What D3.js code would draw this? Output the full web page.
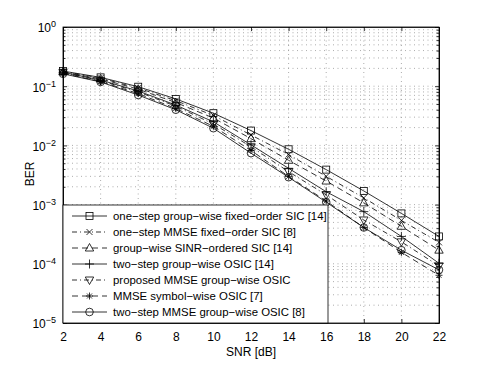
<!DOCTYPE html>
<html>
<head>
<meta charset="UTF-8">
<style>
  body { margin: 0; background: #fff; }
  text { font-family: "Liberation Sans", Arial, sans-serif; }
</style>
</head>
<body>
<svg width="485" height="365"></svg>
<script src="https://cdn.jsdelivr.net/npm/d3@7"></script>
<script>

// data
var snr = [2, 4, 6, 8, 10, 12, 14, 16, 18, 20, 22];
var labels = [
  "one\u2212step group\u2212wise fixed\u2212order SIC [14]",
  "one\u2212step MMSE fixed\u2212order SIC [8]",
  "group\u2212wise SINR\u2212ordered SIC [14]",
  "two\u2212step group\u2212wise OSIC [14]",
  "proposed MMSE group\u2212wise OSIC",
  "MMSE symbol\u2212wise OSIC [7]",
  "two\u2212step MMSE group\u2212wise OSIC [8]"
];
var berFixed   = [0.18, 0.141, 0.098, 0.061, 0.035, 0.0178, 0.0086, 0.0039, 0.0017, 7.1e-4, 2.9e-4];
var berMmseFix = [0.177, 0.137, 0.093, 0.057, 0.032, 0.015, 0.007, 0.003, 0.0013, 5.4e-4, 2.3e-4];
var berSinr    = [0.175, 0.133, 0.089, 0.053, 0.029, 0.013, 0.0056, 0.0025, 0.00107, 4.3e-4, 1.7e-4];
var berTwoStep = [0.172, 0.127, 0.083, 0.048, 0.025, 0.0102, 0.0041, 0.00165, 7.6e-4, 2.9e-4, 1.02e-4];
var berProp    = [0.17, 0.124, 0.08, 0.046, 0.023, 0.0095, 0.0036, 0.00146, 5.5e-4, 2.35e-4, 9.2e-5];
var berSymbol  = [0.165, 0.12, 0.075, 0.042, 0.021, 0.0082, 0.003, 0.00115, 4.1e-4, 1.56e-4, 6.4e-5];
var berTwoMmse = [0.162, 0.118, 0.071, 0.04, 0.0195, 0.0074, 0.0029, 0.0011, 4.1e-4, 1.7e-4, 7.9e-5];
var yTicks = [1e-5, 1e-4, 1e-3, 1e-2, 1e-1, 1];

var series = [
  {name: labels[0], values: berFixed,   marker: "square", dash: null},
  {name: labels[1], values: berMmseFix, marker: "x",      dash: "5,3,1,3"},
  {name: labels[2], values: berSinr,    marker: "tri",    dash: "6,4"},
  {name: labels[3], values: berTwoStep, marker: "plus",   dash: null},
  {name: labels[4], values: berProp,    marker: "itri",   dash: "5,3,1,3"},
  {name: labels[5], values: berSymbol,  marker: "star",   dash: "6,4"},
  {name: labels[6], values: berTwoMmse, marker: "circle", dash: null}
];

var svg = d3.select("svg"),
  margin = {top: 27, right: 46, bottom: 42, left: 63},
  width = +svg.attr("width") - margin.left - margin.right,
  height = +svg.attr("height") - margin.top - margin.bottom,
  g = svg.append("g").attr("transform", "translate(" + margin.left + "," + margin.top + ")");

var x = d3.scaleLinear().domain([2, 22]).range([0, width]);
var y = d3.scaleLog().domain([1e-5, 1]).range([height, 0]);

// minor decade values for grid / ticks
var minor = [];
yTicks.slice(0, -1).forEach(function(d) {
  for (var k = 2; k <= 9; k++) minor.push(d * k);
});

// grid
var grid = g.append("g").attr("stroke", "#8a8a8a").attr("stroke-width", 0.7)
  .attr("stroke-dasharray", "1,3.5");
grid.selectAll(".gx").data(snr.slice(1, -1)).enter().append("line")
  .attr("x1", function(d) { return x(d); }).attr("x2", function(d) { return x(d); })
  .attr("y1", 0).attr("y2", height);
grid.selectAll(".gy").data(yTicks.slice(1, -1).concat(minor)).enter().append("line")
  .attr("y1", function(d) { return y(d); }).attr("y2", function(d) { return y(d); })
  .attr("x1", 0).attr("x2", width);

// axes with inward ticks
function styleAxis(sel) {
  sel.select(".domain").attr("stroke", "#000").attr("stroke-width", 0.8);
  sel.selectAll(".tick line").attr("stroke", "#000").attr("stroke-width", 0.8);
  sel.selectAll("text").attr("font-size", 12).attr("fill", "#000")
    .attr("font-family", "Liberation Sans, Arial, sans-serif");
}

g.append("g")
  .attr("transform", "translate(0," + height + ")")
  .call(d3.axisBottom(x).tickValues(snr).tickSize(-4).tickPadding(9).tickSizeOuter(0))
  .call(styleAxis);

g.append("g")
  .call(d3.axisTop(x).tickValues(snr).tickSize(-4).tickFormat("").tickSizeOuter(0))
  .call(styleAxis);

var yl = g.append("g")
  .call(d3.axisLeft(y).tickValues(yTicks).tickSize(-4).tickFormat("").tickSizeOuter(0))
  .call(styleAxis);
yl.selectAll(".tick").append("text")
  .attr("x", -7).attr("dy", "0.4em").attr("text-anchor", "end")
  .attr("font-size", 12).attr("fill", "#000")
  .each(function(d) {
    var t = d3.select(this);
    t.append("tspan").text("10");
    t.append("tspan").attr("dy", "-0.55em").attr("font-size", 9)
      .text(String(Math.round(Math.log10(d))).replace("-", "\u2212"));
  });
g.append("g")
  .call(d3.axisLeft(y).tickValues(minor).tickSize(-2.5).tickFormat("").tickSizeOuter(0))
  .call(styleAxis);

g.append("g").attr("transform", "translate(" + width + ",0)")
  .call(d3.axisRight(y).tickValues(yTicks).tickSize(-4).tickFormat("").tickSizeOuter(0))
  .call(styleAxis);
g.append("g").attr("transform", "translate(" + width + ",0)")
  .call(d3.axisRight(y).tickValues(minor).tickSize(-2.5).tickFormat("").tickSizeOuter(0))
  .call(styleAxis);

// markers
function drawMarker(sel, type, cx, cy) {
  var m = sel.append("g").attr("transform", "translate(" + cx + "," + cy + ")")
    .attr("fill", "none").attr("stroke", "#000").attr("stroke-width", 0.8);
  if (type === "square") m.append("rect").attr("x", -3.5).attr("y", -3.5).attr("width", 7).attr("height", 7);
  if (type === "circle") m.append("circle").attr("r", 3.8);
  if (type === "tri") m.append("path").attr("d", "M0,-4.5L4.2,3L-4.2,3Z");
  if (type === "itri") m.append("path").attr("d", "M0,4.5L4.2,-3L-4.2,-3Z");
  if (type === "x") m.append("path").attr("d", "M-3,-3L3,3M-3,3L3,-3");
  if (type === "plus") m.append("path").attr("d", "M-4.5,0L4.5,0M0,-4.5L0,4.5");
  if (type === "star") m.append("path").attr("d", "M-3.5,0L3.5,0M0,-3.5L0,3.5M-2.5,-2.5L2.5,2.5M-2.5,2.5L2.5,-2.5");
}

var line = d3.line()
  .x(function(d, i) { return x(snr[i]); })
  .y(function(d) { return y(d); });

series.forEach(function(s) {
  g.append("path")
    .datum(s.values)
    .attr("fill", "none")
    .attr("stroke", "#000")
    .attr("stroke-width", 0.8)
    .attr("stroke-dasharray", s.dash)
    .attr("d", line);
  s.values.forEach(function(v, i) {
    drawMarker(g, s.marker, x(snr[i]), y(v));
  });
});

// box top / right edges
g.append("rect").attr("width", width).attr("height", height)
  .attr("fill", "none").attr("stroke", "#000").attr("stroke-width", 0.8);

// legend
var leg = g.append("g").attr("transform", "translate(0,178)");
leg.append("rect").attr("width", 265).attr("height", height - 178)
  .attr("fill", "#fff").attr("stroke", "#000").attr("stroke-width", 0.8);
series.forEach(function(s, i) {
  var ly = 11 + i * 16;
  leg.append("line").attr("x1", 9).attr("x2", 44).attr("y1", ly).attr("y2", ly)
    .attr("stroke", "#000").attr("stroke-width", 0.8).attr("stroke-dasharray", s.dash);
  drawMarker(leg, s.marker, 26.5, ly);
  leg.append("text").attr("x", 50).attr("y", ly).attr("dy", "0.36em")
    .attr("font-size", 11.4).attr("fill", "#000").text(s.name);
});

// axis titles
g.append("text")
  .attr("x", width / 2).attr("y", height + 33)
  .attr("text-anchor", "middle").attr("font-size", 12).text("SNR [dB]");
g.append("text")
  .attr("transform", "rotate(-90)")
  .attr("x", -height / 2 + 1).attr("y", -29)
  .attr("text-anchor", "middle").attr("font-size", 12).text("BER");

</script>
</body>
</html>
